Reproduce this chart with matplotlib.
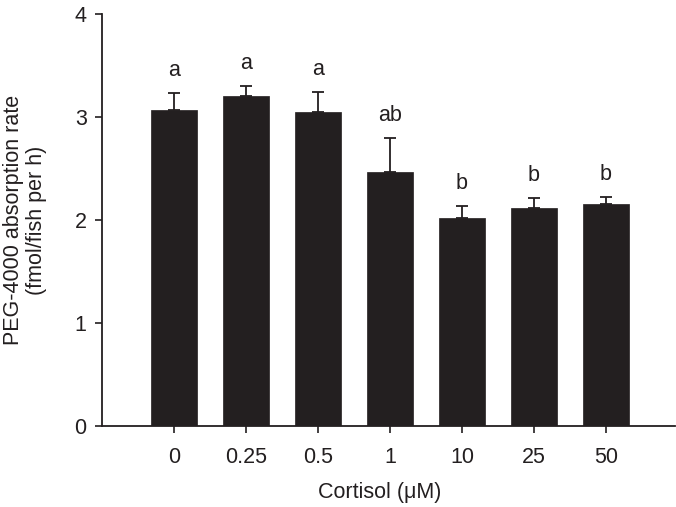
import matplotlib
matplotlib.use("Agg")
import matplotlib.pyplot as plt

plt.rcParams['font.family'] = ['Liberation Sans', 'DejaVu Sans']

categories = ["0", "0.25", "0.5", "1", "10", "25", "50"]
means = [3.065, 3.204, 3.049, 2.46, 2.015, 2.118, 2.153]
upper = [3.227, 3.298, 3.236, 2.796, 2.134, 2.215, 2.221]
letters = ["a", "a", "a", "ab", "b", "b", "b"]
yticks = [0, 1, 2, 3, 4]

errs = [u - m for u, m in zip(upper, means)]
color = "#231f20"

fig = plt.figure(figsize=(6.76, 5.07), dpi=100)
ax = fig.add_axes([102/676, (507-426)/507, (675-102)/676, (426-13.6)/507])
x = list(range(len(categories)))
ax.bar(x, means, width=0.63, color=color, edgecolor=color, linewidth=0.5, zorder=2)
ax.errorbar(x, means, yerr=[[0]*len(errs), errs], fmt='none', ecolor=color,
            elinewidth=1.3, capsize=4.6, capthick=1.3, zorder=1)
for xi, u, l in zip(x, upper, letters):
    ax.text(xi, u + 0.165, l, ha='center', va='baseline', fontsize=15.5, color=color)

ax.set_xlim(-1, 6.96)
ax.set_ylim(0, 4)
ax.set_xticks(x)
ax.set_xticklabels(categories)
ax.set_yticks(yticks)
ax.tick_params(axis='both', labelsize=15.5, length=5, width=1.2, direction='out', colors=color)
ax.tick_params(axis='x', pad=10)
ax.tick_params(axis='y', pad=6)
for s in ['top', 'right']:
    ax.spines[s].set_visible(False)
for s in ['left', 'bottom']:
    ax.spines[s].set_linewidth(1.3)
    ax.spines[s].set_color(color)

ax.set_xlabel("Cortisol (\u03bcM)", fontsize=15.5, color=color, labelpad=10)
ax.xaxis.set_label_coords((380-102)/(675-102), -0.135)
ax.set_ylabel("PEG-4000 absorption rate\n(fmol/fish per h)", fontsize=15.5, color=color,
              linespacing=1.1)
ax.yaxis.set_label_coords((47-102)/(675-102), (426-220)/(426-13.6))

fig.savefig("out.png", dpi=100)
